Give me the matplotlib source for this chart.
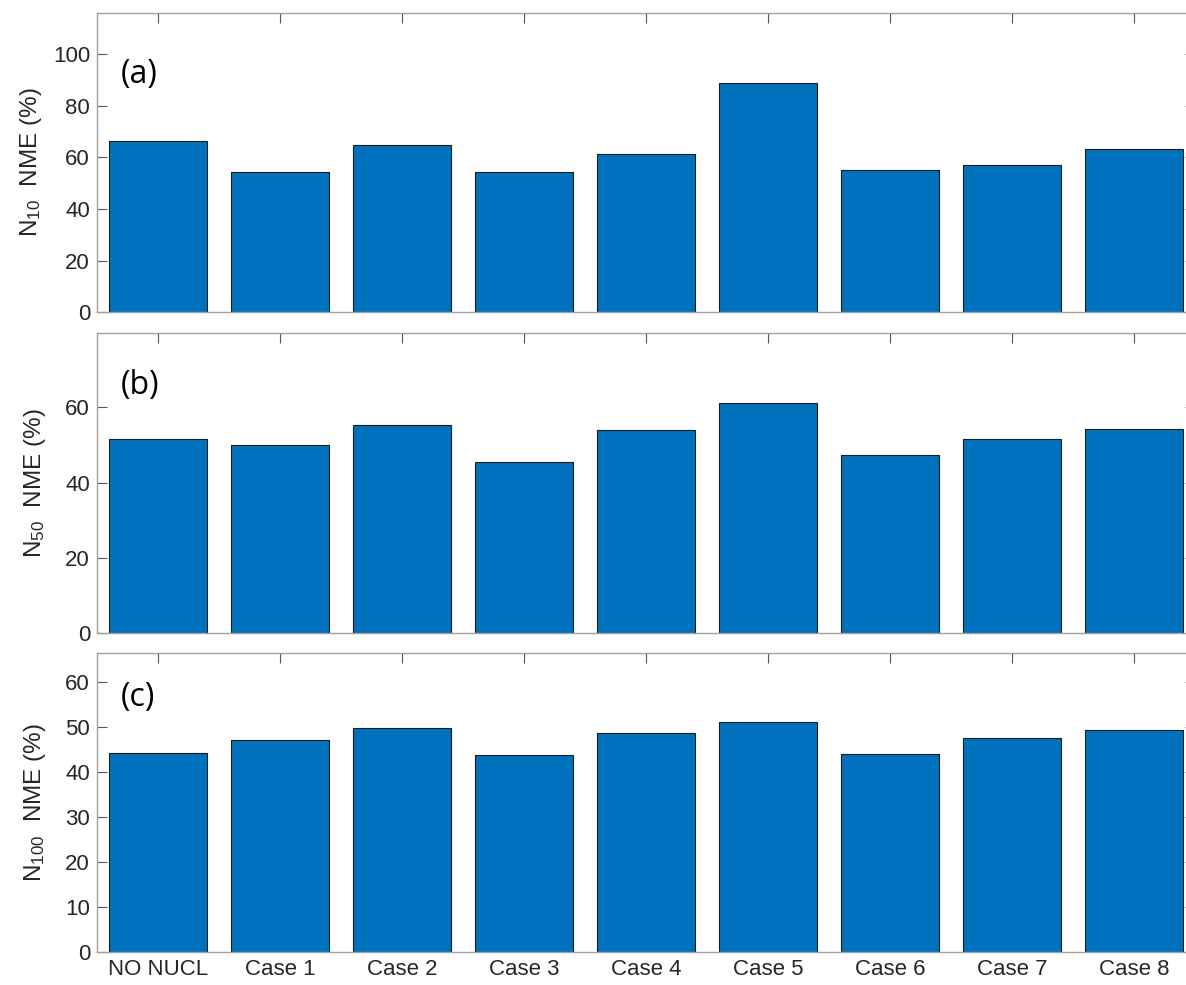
import matplotlib
matplotlib.use("Agg")
import matplotlib.pyplot as plt
import numpy as np

plt.rcParams['font.family'] = ['Liberation Sans', 'DejaVu Sans']
plt.rcParams['mathtext.fontset'] = 'custom'
plt.rcParams['mathtext.rm'] = 'Liberation Sans'
plt.rcParams['mathtext.it'] = 'Liberation Sans:italic'

categories = ['NO NUCL', 'Case 1', 'Case 2', 'Case 3', 'Case 4',
              'Case 5', 'Case 6', 'Case 7', 'Case 8']
n10_nme = [66.1, 54.1, 64.7, 54.1, 61.3, 88.9, 55.0, 57.0, 63.1]
n50_nme = [51.6, 49.9, 55.3, 45.4, 54.0, 61.2, 47.4, 51.5, 54.3]
n100_nme = [44.2, 47.1, 49.8, 43.8, 48.7, 51.1, 44.1, 47.5, 49.4]

panel_tags = ['(a)', '(b)', '(c)']
y_labels = [r'N$\mathregular{_{10}}$  NME (%)',
            r'N$\mathregular{_{50}}$  NME (%)',
            r'N$\mathregular{_{100}}$  NME (%)']
y_limits = [115.8, 79.8, 66.4]
y_ticks = [np.arange(0, 101, 20), np.arange(0, 61, 20), np.arange(0, 61, 10)]
tag_pos = [(0.022, 0.795), (0.022, 0.825), (0.022, 0.85)]
label_x = [-0.048, -0.045, -0.045]

W, H = 1186, 985
fig = plt.figure(figsize=(W / 100, H / 100), dpi=100)

# axes boxes in pixels: top, bottom
left_px, right_px = 97, 1195
boxes = [(13, 312.3), (333, 633), (653, 952.3)]

bar_color = '#0072BD'
text_color = '#262626'
spine_color = '#a0a0a0'

x = np.arange(1, len(categories) + 1)
series = [n10_nme, n50_nme, n100_nme]

for i, (top, bot) in enumerate(boxes):
    ax = fig.add_axes([left_px / W, 1 - bot / H,
                       (right_px - left_px) / W, (bot - top) / H])
    ax.bar(x, series[i], width=0.8, color=bar_color,
           edgecolor='#1a1a1a', linewidth=0.8, zorder=2)
    ax.set_xlim(0.5, 9.5)
    ax.set_ylim(0, y_limits[i])
    ax.set_yticks(y_ticks[i])
    ax.set_xticks(x)
    if i == 2:
        ax.set_xticklabels(categories)
    else:
        ax.set_xticklabels([])
    ax.tick_params(axis='both', direction='in', length=7, width=0.8,
                   color='#555555', labelsize=16, labelcolor=text_color,
                   top=True, right=True, pad=5)
    for s in ax.spines.values():
        s.set_color(spine_color)
        s.set_linewidth(1.0)
    ax.set_ylabel(y_labels[i], fontsize=17.5, color=text_color)
    ax.yaxis.set_label_coords(label_x[i], 0.5)
    ax.text(tag_pos[i][0], tag_pos[i][1], panel_tags[i], transform=ax.transAxes,
            fontsize=23, family=['Open Sans', 'DejaVu Sans'], color='black',
            ha='left', va='center', zorder=3)

fig.savefig('out.png', dpi=100)
